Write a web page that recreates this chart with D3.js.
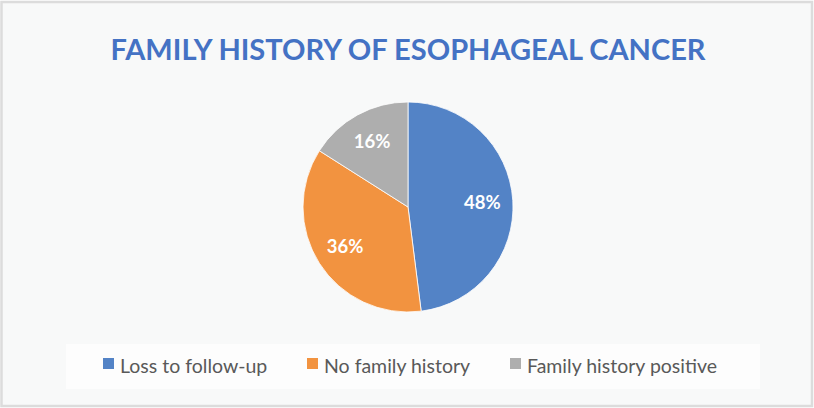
<!DOCTYPE html>
<html><head><meta charset="utf-8">
<script src="https://cdn.jsdelivr.net/npm/d3@7"></script>
<style>html,body{margin:0;padding:0;background:#fff;}svg{display:block;}</style>
</head><body>
<svg id="chart" width="814" height="408"></svg>
<script>
const title = "FAMILY HISTORY OF ESOPHAGEAL CANCER";
const categories = ["Loss to follow-up", "No family history", "Family history positive"];
const values = [48, 36, 16];
const colors = ["#5383C6", "#F29340", "#AEAEAE"];

const svg = d3.select("#chart");
const W = 814, H = 408;

// frame
svg.append("rect").attr("x", 0).attr("y", 0).attr("width", W).attr("height", H).attr("fill", "#ffffff");
svg.append("rect").attr("x", 1.5).attr("y", 2).attr("width", W - 3.5).attr("height", H - 4)
  .attr("fill", "#f8f9f9").attr("stroke", "#dcdcdc").attr("stroke-width", 2.5);

// legend box
svg.append("rect").attr("x", 66).attr("y", 344).attr("width", 694).attr("height", 45).attr("fill", "#fdfdfd");

// title
const t = svg.append("text").attr("x", 408).attr("y", 60).attr("text-anchor", "middle")
  .attr("font-family", "Lato, 'Open Sans', sans-serif").attr("font-weight", "bold")
  .attr("font-size", 28).attr("fill", "#4472C4").text(title);
t.attr("textLength", 595).attr("lengthAdjust", "spacingAndGlyphs");

// pie
const cx = 408, cy = 207, r = 105;
const pie = d3.pie().sort(null).value(d => d)(values);
const arc = d3.arc().innerRadius(0).outerRadius(r);
const labelArc = d3.arc().innerRadius(r * 0.71).outerRadius(r * 0.71);
const g = svg.append("g").attr("transform", `translate(${cx},${cy})`);
g.selectAll("path").data(pie).join("path")
  .attr("d", arc).attr("fill", (d, i) => colors[i])
  .attr("stroke", "#ffffff").attr("stroke-width", 0.8);
g.selectAll("text").data(pie).join("text")
  .attr("transform", d => `translate(${labelArc.centroid(d)})`)
  .attr("text-anchor", "middle").attr("dy", "0.35em")
  .attr("font-family", "Lato, 'Open Sans', sans-serif").attr("font-weight", "bold")
  .attr("font-size", 18.5).attr("fill", "#ffffff")
  .text(d => d.data + "%");

// legend
const legendX = [103, 307, 510];
const lg = svg.append("g");
categories.forEach((c, i) => {
  lg.append("rect").attr("x", legendX[i]).attr("y", 358).attr("width", 11).attr("height", 11).attr("fill", colors[i]);
  lg.append("text").attr("x", legendX[i] + 17).attr("y", 373)
    .attr("font-family", "Lato, 'Open Sans', sans-serif").attr("font-size", 19.5)
    .attr("fill", "#595959").text(c);
});
</script>
</body></html>
